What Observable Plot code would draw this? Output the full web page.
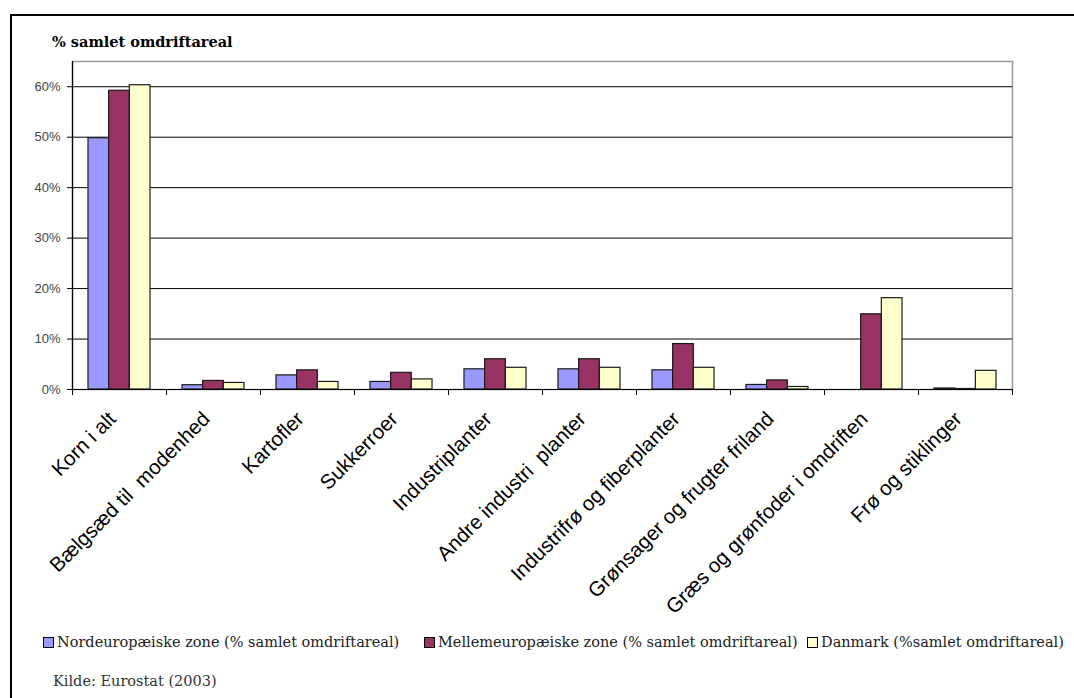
<!DOCTYPE html>
<html>
<head>
<meta charset="utf-8">
<script src="https://cdn.jsdelivr.net/npm/d3@7"></script>
<script src="https://cdn.jsdelivr.net/npm/@observablehq/plot@0.6"></script>
<style>
  html, body { margin: 0; padding: 0; background: #fff; }
  #page { position: relative; width: 1074px; height: 698px; overflow: hidden; }
  #box { position: absolute; left: 10px; top: 14px; width: 1200px; height: 800px;
         border-top: 2px solid #000; border-left: 2px solid #000; }
  #chart { position: absolute; left: 0; top: 0; }
  #title { position: absolute; left: 52px; top: 33px; font: bold 14.5px "DejaVu Serif", serif; color: #000; white-space: nowrap; }
  .leg { position: absolute; top: 633px; font: 14.5px "DejaVu Serif", serif; color: #222; white-space: nowrap; line-height: 18px; }
  .sw { display: inline-block; width: 9px; height: 9px; border: 1px solid #000; margin-right: 3px; vertical-align: -1px; }
  #caption { position: absolute; left: 53px; top: 673px; font: 14.5px "DejaVu Serif", serif; color: #333; white-space: nowrap; }
</style>
</head>
<body>
<div id="page">
  <div id="box"></div>
  <div id="chart"></div>
  <div id="title">% samlet omdriftareal</div>
  <div id="legend"></div>
  <div id="caption">Kilde: Eurostat (2003)</div>
</div>
<script>
const categories = [
  "Korn i alt",
  "Bælgsæd til  modenhed",
  "Kartofler",
  "Sukkerroer",
  "Industriplanter",
  "Andre industri  planter",
  "Industrifrø og fiberplanter",
  "Grønsager og frugter friland",
  "Græs og grønfoder i omdriften",
  "Frø og stiklinger"
];
const seriesNames = [
  "Nordeuropæiske zone (% samlet omdriftareal)",
  "Mellemeuropæiske zone (% samlet omdriftareal)",
  "Danmark (%samlet omdriftareal)"
];
const nordeuropa    = [49.8, 0.85, 2.8, 1.5, 4.0, 4.0, 3.8, 0.9, null, 0.2];
const mellemeuropa  = [59.2, 1.7, 3.8, 3.3, 6.0, 6.0, 9.0, 1.8, 14.9, 0.1];
const danmark       = [60.3, 1.3, 1.5, 2.0, 4.3, 4.3, 4.3, 0.5, 18.1, 3.7];
const colors = ["#9999FF", "#993366", "#FFFFCC"];
const yTicks = [0, 10, 20, 30, 40, 50, 60];

const seriesValues = [nordeuropa, mellemeuropa, danmark];
const W = 1074, H = 630, mL = 72, mR = 62, mT = 61, mB = 241;
const step = (W - mL - mR) / categories.length;
const barW = step * 0.22;
const inset = (step - barW) / 2;

const barMarks = seriesValues.map((vals, i) =>
  Plot.barY(
    categories.map((c, j) => ({cat: c, v: vals[j]})).filter(d => d.v != null),
    {x: "cat", y: "v", fill: colors[i], stroke: "#1a1a1a", strokeWidth: 1.2,
     insetLeft: inset, insetRight: inset, dx: (i - 1) * barW}
  )
);

const chart = Plot.plot({
  width: W, height: H,
  marginLeft: mL, marginRight: mR, marginTop: mT, marginBottom: mB,
  x: {domain: categories, padding: 0, axis: null},
  y: {domain: [0, 65], axis: null},
  style: {background: "transparent", overflow: "visible"},
  marks: [
    Plot.frame({stroke: "#999", strokeWidth: 1.5}),
    Plot.ruleY(yTicks.slice(1), {stroke: "#000", strokeWidth: 1}),
    ...barMarks,
    Plot.ruleY([0], {stroke: "#000", strokeWidth: 1.2}),
    Plot.ruleX([categories[0]], {dx: -step / 2, stroke: "#000", strokeWidth: 1.2}),
    Plot.axisY({ticks: yTicks, tickFormat: d => d + "%", tickSize: 5, tickPadding: 7,
      fontSize: 13, fontFamily: "Arial, 'Liberation Sans', sans-serif", fill: "#444", stroke: "#000", label: null}),
    Plot.axisX({ticks: categories, tickSize: 6, text: null, dx: -step / 2, stroke: "#000", label: null}),
    Plot.axisX({ticks: [categories[categories.length - 1]], tickSize: 6, text: null, dx: step / 2, stroke: "#000", label: null}),
    Plot.axisX({ticks: categories, tickSize: 0, tickPadding: 26, tickRotate: -45, dx: -7,
      fontSize: 20.5, fontFamily: "Arial, 'Liberation Sans', sans-serif", fill: "#000", label: null})
  ]
});
document.getElementById("chart").appendChild(chart);

const legendLefts = [43, 424, 807];
const legend = document.getElementById("legend");
seriesNames.forEach((name, i) => {
  const d = document.createElement("div");
  d.className = "leg";
  d.style.left = legendLefts[i] + "px";
  const sw = document.createElement("span");
  sw.className = "sw";
  sw.style.background = colors[i];
  d.appendChild(sw);
  d.appendChild(document.createTextNode(name));
  legend.appendChild(d);
});
</script>
</body>
</html>
